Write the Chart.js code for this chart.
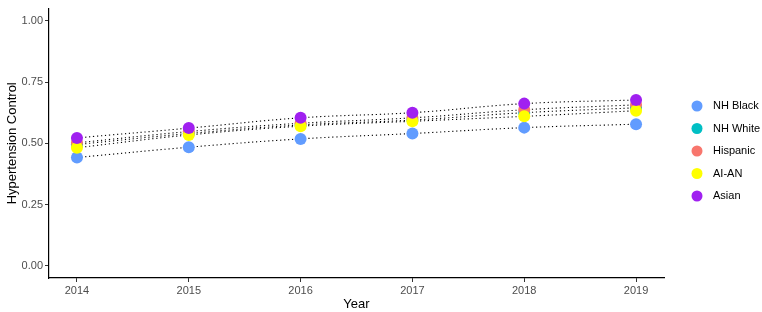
<!DOCTYPE html>
<html><head><meta charset="utf-8">
<script src="https://cdn.jsdelivr.net/npm/chart.js@4"></script>
<style>html,body{margin:0;padding:0;background:#fff;}#wrap{width:762px;height:312px;position:relative;}</style>
</head><body><div id="wrap"><canvas id="c" width="762" height="312"></canvas></div>
<script>
const years = [2014, 2015, 2016, 2017, 2018, 2019];
const groups = ["NH Black", "NH White", "Hispanic", "AI-AN", "Asian"];
const nhBlack  = [0.442, 0.484, 0.518, 0.540, 0.564, 0.578];
const nhWhite  = [0.495, 0.540, 0.575, 0.595, 0.625, 0.645];
const hispanic = [0.502, 0.548, 0.582, 0.604, 0.637, 0.657];
const aiAn     = [0.482, 0.534, 0.570, 0.590, 0.610, 0.633];
const asian    = [0.522, 0.562, 0.604, 0.625, 0.662, 0.677];
const yTicks = [0, 0.25, 0.5, 0.75, 1.0];
const colors = ["#619CFF", "#00BFC4", "#F8766D", "#FFFF00", "#A020F0"];
const series = [nhBlack, nhWhite, hispanic, aiAn, asian];

const datasets = [];
series.forEach((vals, i) => {
  datasets.push({
    label: groups[i] + " trend",
    data: years.map((y, j) => ({x: y, y: vals[j]})),
    showLine: true, borderColor: "#000", borderWidth: 1.1, borderDash: [1.2, 2.8],
    pointRadius: 0, tension: 0.4, order: 20, fill: false
  });
});
series.forEach((vals, i) => {
  datasets.push({
    label: groups[i],
    data: years.map((y, j) => ({x: y, y: vals[j]})),
    showLine: false, backgroundColor: colors[i], borderColor: colors[i],
    borderWidth: 0, pointRadius: 6, pointHoverRadius: 6, order: 10 - i
  });
});

const legendPlugin = {
  id: "customLegend",
  afterDraw(chart) {
    const ctx = chart.ctx;
    ctx.save();
    ctx.font = "11px 'Liberation Sans', Arial, sans-serif";
    ctx.textBaseline = "middle";
    groups.forEach((g, i) => {
      const y = 106 + i * 22.5;
      ctx.beginPath();
      ctx.fillStyle = colors[i];
      ctx.arc(697, y, 5.5, 0, Math.PI * 2);
      ctx.fill();
      ctx.fillStyle = "#000";
      ctx.fillText(g, 713, y);
    });
    ctx.restore();
  }
};

new Chart(document.getElementById("c"), {
  type: "scatter",
  data: { datasets },
  plugins: [legendPlugin],
  options: {
    responsive: false, animation: false,
    layout: { padding: { left: 0, right: 98, top: 2, bottom: 0 } },
    plugins: { legend: { display: false }, tooltip: { enabled: false } },
    elements: { point: { borderWidth: 0 } },
    scales: {
      x: {
        type: "linear", min: 2013.75, max: 2019.25,
        afterBuildTicks(s) { s.ticks = years.map(v => ({value: v})); },
        afterFit(s) { s.height = 34; },
        grid: { drawOnChartArea: false, drawTicks: true, tickLength: 4, color: "#333", tickWidth: 1 },
        border: { display: true, color: "#000", width: 1.2 },
        ticks: { color: "#4d4d4d", font: { size: 11, family: "'Liberation Sans', Arial, sans-serif" }, padding: 2, callback: v => String(v) },
        title: { display: true, text: "Year", color: "#000", font: { size: 13, family: "'Liberation Sans', Arial, sans-serif" }, padding: { top: 0, bottom: 0 } }
      },
      y: {
        min: -0.05, max: 1.05,
        afterBuildTicks(s) { s.ticks = yTicks.map(v => ({value: v})); },
        afterFit(s) { s.width = 49; },
        grid: { drawOnChartArea: false, drawTicks: true, tickLength: 4, color: "#333", tickWidth: 1 },
        border: { display: true, color: "#000", width: 1.2 },
        ticks: { color: "#4d4d4d", font: { size: 11, family: "'Liberation Sans', Arial, sans-serif" }, padding: 2, callback: v => Number(v).toFixed(2) },
        title: { display: true, text: "Hypertension Control", color: "#000", font: { size: 13, family: "'Liberation Sans', Arial, sans-serif" }, padding: { top: 5, bottom: 0 } }
      }
    }
  }
});
</script></body></html>
